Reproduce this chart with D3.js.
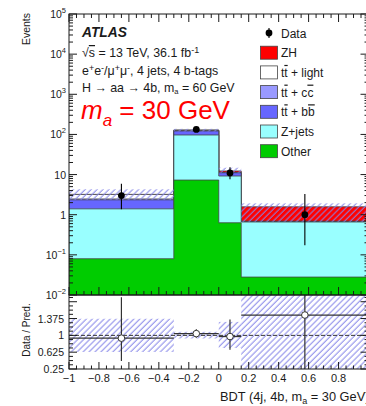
<!DOCTYPE html>
<html>
<head>
<meta charset="utf-8">
<script src="https://cdn.jsdelivr.net/npm/d3@7"></script>
<style>
  html, body { margin: 0; padding: 0; background: #fff; }
  svg { display: block; font-family: "Liberation Sans", Arial, Helvetica, sans-serif; }
  .ol { text-decoration: overline; }
</style>
</head>
<body>
<svg id="chart" width="366" height="406"></svg>
<script>
// BDT bin edges
const binEdges = [-1, -0.3, 0, 0.15, 1];

// Stacked predictions per bin (bottom to top)
const otherVals   = [0.08, 7.3, 0.63, 0.028];
const zjetsVals   = [1.32, 89.5, 8.57, 0.63];
const ttbbVals    = [0.95, 25, 1.9, 0.02];
const ttccVals    = [0.12, 3.0, 0.1, 0.005];
const ttlightVals = [0.73, 3.2, 0.1, 0.005];
const zhVals      = [0.0, 0.3, 1.0, 0.89];

// Observed data with asymmetric Poisson intervals
const dataVals = [3, 133, 11, 1];
const dataLow  = [1.37, 121.5, 7.7, 0.173];
const dataHigh = [5.92, 145.5, 15.3, 3.3];

// Uncertainty band on the prediction (main panel and ratio panel)
const bandLow   = [2.35, 118, 11.1, 0.67];
const bandHigh  = [4.3, 138, 14.8, 1.92];
const ratioBandLow  = [0.63, 0.93, 0.72, 0.1];
const ratioBandHigh = [1.37, 1.08, 1.3, 2.2];

// Axis ticks
const xTickVals = [-1, -0.8, -0.6, -0.4, -0.2, 0, 0.2, 0.4, 0.6, 0.8, 1];
const xTickLabels = ["\u22121", "\u22120.8", "\u22120.6", "\u22120.4", "\u22120.2", "0", "0.2", "0.4", "0.6", "0.8", ""];
const yDecades = [-2, -1, 0, 1, 2, 3, 4, 5];
const ratioTickVals = [0.25, 0.625, 1, 1.375, 1.75];
const ratioTickLabels = ["0.25", "0.625", "1", "1.375", ""];

const layers = [
  { name: "Other",     vals: otherVals,   color: "#00cc00" },
  { name: "Z+jets",    vals: zjetsVals,   color: "#99ffff" },
  { name: "ttbb",      vals: ttbbVals,    color: "#6666ff" },
  { name: "ttcc",      vals: ttccVals,    color: "#9999ff" },
  { name: "ttlight",   vals: ttlightVals, color: "#ffffff" },
  { name: "ZH",        vals: zhVals,      color: "#ff0000" }
];

const svg = d3.select("#chart");
const L = 69, R = 368.5, T = 14, MB = 295, RB = 369;
const ink = "#1a1a1a";

const x = d3.scaleLinear().domain([-1, 1]).range([L, R]);
const y = d3.scaleLog().domain([1e-2, 1e5]).range([MB, T]);
const yr = d3.scaleLinear().domain([0.25, 1.9]).range([RB, MB]);

const defs = svg.append("defs");
defs.append("clipPath").attr("id", "clipMain")
  .append("rect").attr("x", L).attr("y", T).attr("width", R - L).attr("height", MB - T);
defs.append("clipPath").attr("id", "clipRatio")
  .append("rect").attr("x", L).attr("y", MB).attr("width", R - L).attr("height", RB - MB);
// diagonal hatching for the uncertainty band
const pat = defs.append("pattern").attr("id", "hatch")
  .attr("patternUnits", "userSpaceOnUse").attr("width", 4.2).attr("height", 10)
  .attr("patternTransform", "rotate(45)");
pat.append("line").attr("x1", 1).attr("x2", 1).attr("y1", 0).attr("y2", 10)
  .attr("stroke", "#8585e8").attr("stroke-width", 1);

const nb = binEdges.length - 1;
const bins = d3.range(nb);

// Cumulative sums for the stack
const cum = layers.map((_, k) => bins.map(i => d3.sum(layers.slice(0, k + 1), l => l.vals[i])));
const bkg = bins.map(i => cum[4][i]);

// ---------- main panel ----------
const gMain = svg.append("g").attr("clip-path", "url(#clipMain)");

function stepPath(vals) {
  const yy = v => (v > 0 ? y(v) : MB + 5);
  let d = `M${x(binEdges[0])},${MB + 5}`;
  bins.forEach(i => {
    d += `L${x(binEdges[i])},${yy(vals[i])}L${x(binEdges[i + 1])},${yy(vals[i])}`;
  });
  d += `L${x(binEdges[nb])},${MB + 5}Z`;
  return d;
}

// draw cumulative histograms from the top down
for (let k = layers.length - 1; k >= 0; k--) {
  gMain.append("path").attr("d", stepPath(cum[k]))
    .attr("fill", layers[k].color).attr("stroke", "#444").attr("stroke-width", 0.8);
}

// uncertainty band
gMain.selectAll(".band").data(bins).join("rect")
  .attr("x", i => x(binEdges[i])).attr("width", i => x(binEdges[i + 1]) - x(binEdges[i]))
  .attr("y", i => y(bandHigh[i])).attr("height", i => y(bandLow[i]) - y(bandHigh[i]))
  .attr("fill", "url(#hatch)");

// data points
const mid = i => x((binEdges[i] + binEdges[i + 1]) / 2);
gMain.selectAll(".err").data(bins).join("line")
  .attr("x1", mid).attr("x2", mid)
  .attr("y1", i => y(dataLow[i])).attr("y2", i => y(dataHigh[i]))
  .attr("stroke", "#000").attr("stroke-width", 1.1);
gMain.selectAll(".pt").data(bins).join("circle")
  .attr("cx", mid).attr("cy", i => y(dataVals[i]))
  .attr("r", 3.4).attr("fill", "#000");

// ---------- ratio panel ----------
const gRatio = svg.append("g").attr("clip-path", "url(#clipRatio)");
gRatio.selectAll(".rband").data(bins).join("rect")
  .attr("x", i => x(binEdges[i])).attr("width", i => x(binEdges[i + 1]) - x(binEdges[i]))
  .attr("y", i => yr(ratioBandHigh[i])).attr("height", i => yr(ratioBandLow[i]) - yr(ratioBandHigh[i]))
  .attr("fill", "url(#hatch)");
gRatio.append("line").attr("x1", L).attr("x2", R).attr("y1", yr(1)).attr("y2", yr(1))
  .attr("stroke", "#333").attr("stroke-width", 1).attr("stroke-dasharray", "4,2");

const ratio = bins.map(i => dataVals[i] / bkg[i]);
gRatio.selectAll(".rh").data(bins).join("line")
  .attr("x1", i => x(binEdges[i])).attr("x2", i => x(binEdges[i + 1]))
  .attr("y1", i => yr(ratio[i])).attr("y2", i => yr(ratio[i]))
  .attr("stroke", "#333").attr("stroke-width", 1.2);
gRatio.selectAll(".rv").data(bins).join("line")
  .attr("x1", mid).attr("x2", mid)
  .attr("y1", i => yr(dataLow[i] / bkg[i])).attr("y2", i => yr(dataHigh[i] / bkg[i]))
  .attr("stroke", "#333").attr("stroke-width", 1.2);
gRatio.selectAll(".rp").data(bins).join("circle")
  .attr("cx", mid).attr("cy", i => yr(ratio[i]))
  .attr("r", 3.3).attr("fill", "#fff").attr("stroke", "#333").attr("stroke-width", 1);

// ---------- frames and ticks ----------
const gAx = svg.append("g").attr("stroke", ink).attr("stroke-width", 1).attr("fill", "none");
gAx.append("rect").attr("x", L).attr("y", T).attr("width", R - L).attr("height", MB - T);
gAx.append("rect").attr("x", L).attr("y", MB).attr("width", R - L).attr("height", RB - MB);

const xMinor = d3.range(-1, 1.0001, 0.05);
function tickLine(x1, y1, x2, y2) { gAx.append("line").attr("x1", x1).attr("y1", y1).attr("x2", x2).attr("y2", y2); }
xMinor.forEach(v => {
  const major = Math.abs(Math.round(v * 5) - v * 5) < 1e-6;
  const len = major ? 8 : 4;
  tickLine(x(v), T, x(v), T + len);
  tickLine(x(v), MB, x(v), MB - len);
  tickLine(x(v), RB, x(v), RB - (major ? 7 : 3.5));
});
yDecades.forEach(d => {
  const v = Math.pow(10, d);
  tickLine(L, y(v), L + 8, y(v));
  tickLine(R, y(v), R - 8, y(v));
  if (d < 5) {
    for (let m = 2; m <= 9; m++) {
      const yy = y(m * v);
      tickLine(L, yy, L + 4, yy);
      tickLine(R, yy, R - 4, yy);
    }
  }
});
const rMinor = d3.range(0.25, 1.9, 0.375 / 4);
rMinor.forEach((v, j) => {
  const major = j % 4 === 0;
  const len = major ? 8 : 4;
  tickLine(L, yr(v), L + len, yr(v));
  tickLine(R, yr(v), R - len, yr(v));
});

// ---------- tick labels ----------
svg.append("g").selectAll("text").data(xTickVals).join("text")
  .attr("x", d => x(d)).attr("y", 382).attr("text-anchor", "middle")
  .attr("font-size", 11).attr("fill", ink)
  .text((d, i) => xTickLabels[i]);

const yLab = svg.append("g").attr("font-size", 10.5).attr("fill", ink).attr("text-anchor", "end");
yDecades.forEach(d => {
  const t = yLab.append("text").attr("x", 66).attr("y", y(Math.pow(10, d)) + 4);
  if (d === 0) t.text("1");
  else if (d === 1) t.text("10");
  else {
    t.append("tspan").text("10");
    t.append("tspan").attr("dy", -5).attr("font-size", 7.5).text(d < 0 ? "\u2212" + (-d) : String(d));
  }
});
svg.append("g").selectAll("text").data(ratioTickVals).join("text")
  .attr("x", 64).attr("y", d => yr(d) + 4).attr("text-anchor", "end")
  .attr("font-size", 10.5).attr("fill", ink)
  .text((d, i) => ratioTickLabels[i]);

// ---------- axis titles ----------
svg.append("text").attr("transform", `translate(30,${T - 1}) rotate(-90)`)
  .attr("text-anchor", "end").attr("font-size", 10.5).attr("fill", ink).text("Events");
svg.append("text").attr("transform", `translate(30,330) rotate(-90)`)
  .attr("text-anchor", "middle").attr("font-size", 10).attr("fill", ink).text("Data / Pred.");
const xt = svg.append("text").attr("x", 369.5).attr("y", 401).attr("text-anchor", "end")
  .attr("font-size", 12.8).attr("fill", ink);
xt.append("tspan").text("BDT (4j, 4b, m");
xt.append("tspan").attr("dy", 3).attr("font-size", 9).text("a");
xt.append("tspan").attr("dy", -3).text(" = 30 GeV)");

// ---------- annotations ----------
const ann = svg.append("g").attr("fill", ink);
ann.append("text").attr("x", 82).attr("y", 37).attr("font-size", 13.8)
  .attr("font-weight", "bold").attr("font-style", "italic").text("ATLAS");
const t1 = ann.append("text").attr("x", 82).attr("y", 57).attr("font-size", 12.4);
t1.append("tspan").text("\u221A");
t1.append("tspan").attr("class", "ol").text("s");
t1.append("tspan").text(" = 13 TeV, 36.1 fb");
t1.append("tspan").attr("dy", -4.5).attr("font-size", 9).text("-1");
const t2 = ann.append("text").attr("x", 82).attr("y", 75).attr("font-size", 12.4);
t2.append("tspan").text("e");
t2.append("tspan").attr("dy", -4.5).attr("font-size", 9).text("+");
t2.append("tspan").attr("dy", 4.5).text("e");
t2.append("tspan").attr("dy", -4.5).attr("font-size", 9).text("-");
t2.append("tspan").attr("dy", 4.5).text("/\u03BC");
t2.append("tspan").attr("dy", -4.5).attr("font-size", 9).text("+");
t2.append("tspan").attr("dy", 4.5).text("\u03BC");
t2.append("tspan").attr("dy", -4.5).attr("font-size", 9).text("-");
t2.append("tspan").attr("dy", 4.5).text(", 4 jets, 4 b-tags");
const t3 = ann.append("text").attr("x", 82).attr("y", 91.5).attr("font-size", 12.4);
t3.append("tspan").text("H \u2192 aa \u2192 4b, m");
t3.append("tspan").attr("dy", 2).attr("font-size", 7.5).text("a");
t3.append("tspan").attr("dy", -2).text(" = 60 GeV");
const t4 = ann.append("text").attr("x", 81).attr("y", 119).attr("fill", "#ff0000").attr("font-size", 26);
t4.append("tspan").attr("font-style", "italic").text("m");
t4.append("tspan").attr("font-style", "italic").attr("font-size", 17).attr("dy", 7).text("a");
t4.append("tspan").attr("dy", -7).text(" = 30 GeV");

// ---------- legend ----------
const legendItems = [
  { label: ["Data"], color: null },
  { label: ["ZH"], color: "#ff0000" },
  { label: ["t", "t", " + light"], color: "#ffffff" },
  { label: ["t", "t", " + c", "c"], color: "#9999ff" },
  { label: ["t", "t", " + b", "b"], color: "#6666ff" },
  { label: ["Z+jets"], color: "#99ffff" },
  { label: ["Other"], color: "#00cc00" }
];
const lg = svg.append("g");
legendItems.forEach((it, i) => {
  const cy = 33 + i * 19.7;
  if (it.color === null) {
    lg.append("line").attr("x1", 269).attr("x2", 269).attr("y1", cy - 5).attr("y2", cy + 5)
      .attr("stroke", "#000").attr("stroke-width", 1.1);
    lg.append("circle").attr("cx", 269).attr("cy", cy).attr("r", 3.4).attr("fill", "#000");
  } else {
    lg.append("rect").attr("x", 260.5).attr("y", cy - 6.5).attr("width", 17).attr("height", 13)
      .attr("fill", it.color).attr("stroke", "#444").attr("stroke-width", 0.8);
  }
  const tx = lg.append("text").attr("x", 281).attr("y", cy + 4.5).attr("font-size", 12).attr("fill", ink);
  it.label.forEach((s, j) => {
    const sp = tx.append("tspan").text(s);
    if (j % 2 === 1 && (s === "t" || s === "c" || s === "b")) sp.attr("class", "ol");
  });
});
</script>
</body>
</html>
